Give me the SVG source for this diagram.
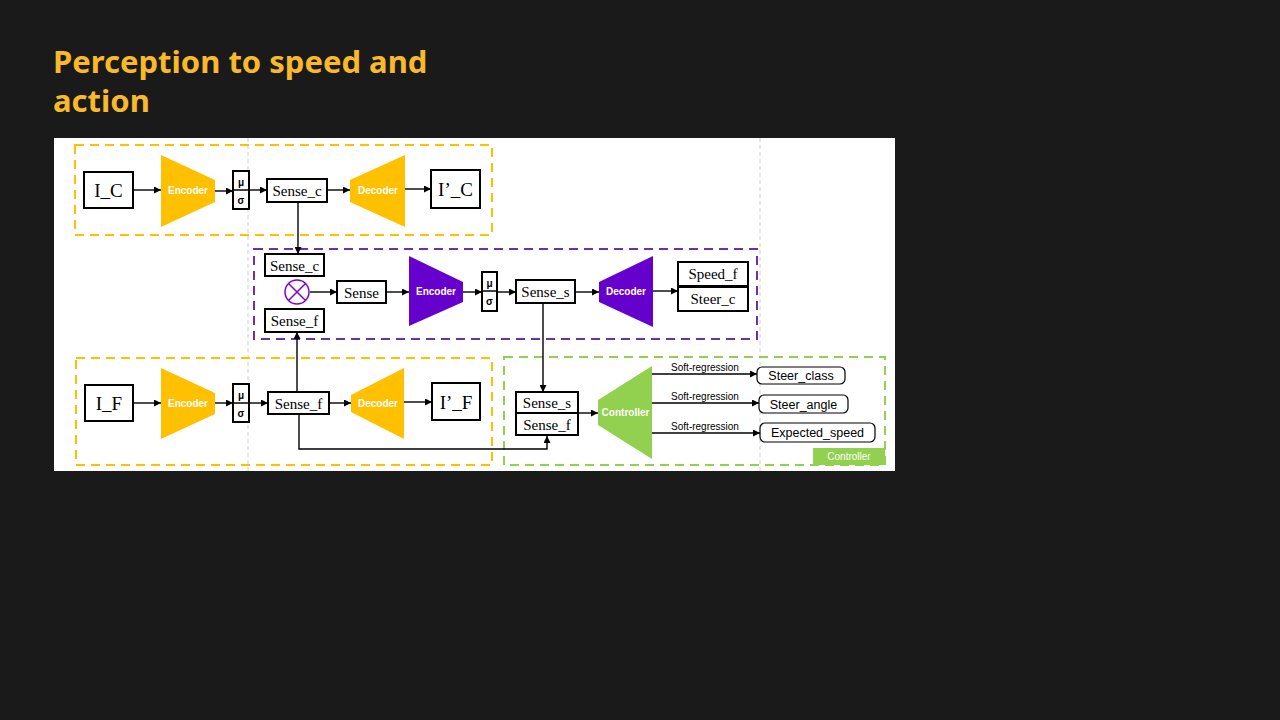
<svg xmlns="http://www.w3.org/2000/svg" width="1280" height="720" viewBox="0 0 1280 720">
<defs>
<marker id="ah" viewBox="0 0 10 10" refX="10" refY="5" markerWidth="7" markerHeight="7" markerUnits="userSpaceOnUse" orient="auto"><path d="M0,0 L10,5 L0,10 z" fill="#000"/></marker>
<style>
.bx{fill:#fff;stroke:#000;stroke-width:2}
.rb{fill:#fff;stroke:#000;stroke-width:1.2}
.sv{font-family:"Liberation Serif",serif;fill:#000;text-anchor:middle}
.ss{font-family:"Liberation Sans",sans-serif;text-anchor:middle}
.lbl{font-family:"Liberation Sans",sans-serif;font-weight:bold;fill:#fff;text-anchor:middle;font-size:10px}
.con{fill:none;stroke:#000;stroke-width:1.4}
.arr{fill:none;stroke:#000;stroke-width:1.4;marker-end:url(#ah)}
.grid{stroke:#cfcfcf;stroke-width:1;stroke-dasharray:4 3}
</style>
</defs>
<rect width="1280" height="720" fill="#1a1a1a"/>
<g id="title" font-family="'Noto Sans','Noto Sans CJK JP',sans-serif" font-weight="bold" font-size="31" fill="#F8B92A">
<text x="53" y="73">Perception to speed and</text>
<text x="53" y="112">action</text>
</g>
<rect x="54" y="138" width="841" height="333" fill="#fff"/>
<g id="guides">
<line class="grid" x1="248" y1="138" x2="248" y2="471"/>
<line class="grid" x1="760" y1="138" x2="760" y2="471"/>
</g>
<g id="group-top"><rect x="75" y="145" width="417" height="90" fill="none" stroke="#FFC000" stroke-width="2" stroke-dasharray="9 6"/></g>
<g id="group-mid"><rect x="254" y="249" width="503" height="90" fill="none" stroke="#7030A0" stroke-width="2" stroke-dasharray="9 6"/></g>
<g id="group-bot"><rect x="76" y="358" width="416" height="107" fill="none" stroke="#FFC000" stroke-width="2" stroke-dasharray="9 6"/></g>
<g id="group-ctrl"><rect x="504" y="357" width="381" height="108" fill="none" stroke="#92D050" stroke-width="2" stroke-dasharray="9 6"/>
<rect x="813" y="448" width="72" height="17" fill="#92D050"/><text x="849" y="460" class="ss" font-size="10" fill="#fff">Controller</text></g>

<g id="connectors">
<line class="arr" x1="133" y1="190" x2="161" y2="190"/>
<line class="arr" x1="215" y1="191" x2="233" y2="191"/>
<line class="arr" x1="249" y1="190" x2="267" y2="190"/>
<line class="arr" x1="327" y1="190" x2="350" y2="190"/>
<line class="arr" x1="405" y1="189" x2="431" y2="189"/>
<line class="arr" x1="298" y1="202" x2="298" y2="254"/>
<line class="arr" x1="310" y1="292" x2="337" y2="292"/>
<line class="arr" x1="386" y1="292" x2="409" y2="292"/>
<line class="arr" x1="463" y1="292" x2="482" y2="292"/>
<line class="arr" x1="497" y1="292" x2="516" y2="292"/>
<line class="arr" x1="575" y1="292" x2="599" y2="292"/>
<line class="arr" x1="653" y1="291" x2="678" y2="291"/>
<line class="arr" x1="543" y1="303" x2="543" y2="392"/>
<line class="arr" x1="133" y1="403" x2="161" y2="403"/>
<line class="arr" x1="215" y1="403" x2="233" y2="403"/>
<line class="arr" x1="249" y1="403" x2="268" y2="403"/>
<line class="arr" x1="329" y1="403" x2="351" y2="403"/>
<line class="arr" x1="404" y1="402" x2="432" y2="402"/>
<line class="arr" x1="297" y1="392" x2="297" y2="332"/>
<polyline class="arr" points="299,414 299,449 547,449 547,436"/>
<line class="arr" x1="578" y1="413" x2="598" y2="413"/>
<line class="arr" x1="652" y1="374" x2="757" y2="374"/>
<line class="arr" x1="652" y1="403" x2="759" y2="403"/>
<line class="arr" x1="652" y1="433" x2="760" y2="433"/>
<g class="ss" font-size="10" fill="#000">
<text x="705" y="371">Soft-regression</text>
<text x="705" y="400">Soft-regression</text>
<text x="705" y="430">Soft-regression</text>
</g>
</g>

<g id="IC"><rect class="bx" x="84" y="172" width="49" height="36"/><text class="sv" x="108.5" y="197" font-size="19">I_C</text></g>
<g id="enc-top"><polygon points="161,155 215,180 215,202 161,227" fill="#FFC000"/><text class="lbl" x="188" y="194">Encoder</text></g>
<g id="ms-top"><rect class="bx" x="233" y="171" width="16" height="38"/><line x1="233" y1="190" x2="249" y2="190" stroke="#000" stroke-width="1.5"/><text class="ss" x="241" y="186" font-size="10" font-weight="bold">μ</text><text class="ss" x="241" y="204" font-size="10" font-weight="bold">σ</text></g>
<g id="sense-c-top"><rect class="bx" x="267" y="179" width="60" height="23"/><text class="sv" x="297" y="195.5" font-size="15">Sense_c</text></g>
<g id="dec-top"><polygon points="350,180 405,155 405,227 350,202" fill="#FFC000"/><text class="lbl" x="378" y="194">Decoder</text></g>
<g id="IpC"><rect class="bx" x="431" y="170" width="49" height="38"/><text class="sv" x="455.5" y="196" font-size="19">I’_C</text></g>

<g id="sense-c-mid"><rect class="bx" x="265" y="254" width="59" height="22"/><text class="sv" x="294.5" y="270.5" font-size="15">Sense_c</text></g>
<g id="mult"><circle cx="297" cy="292" r="12" fill="#fff" stroke="#7F00D4" stroke-width="1.5"/><path d="M288.5,283.5 L305.5,300.5 M305.5,283.5 L288.5,300.5" stroke="#7F00D4" stroke-width="1.5"/></g>
<g id="sense-f-mid"><rect class="bx" x="265" y="309" width="59" height="23"/><text class="sv" x="294.5" y="325.5" font-size="15">Sense_f</text></g>
<g id="sense"><rect class="bx" x="337" y="281" width="49" height="22"/><text class="sv" x="361.5" y="297.5" font-size="15">Sense</text></g>
<g id="enc-mid"><polygon points="409,256 463,282 463,302 409,326" fill="#6600CC"/><text class="lbl" x="436" y="295">Encoder</text></g>
<g id="ms-mid"><rect class="bx" x="482" y="272" width="15" height="39"/><line x1="482" y1="291" x2="497" y2="291" stroke="#000" stroke-width="1.5"/><text class="ss" x="489.5" y="287" font-size="10" font-weight="bold">μ</text><text class="ss" x="489.5" y="305" font-size="10" font-weight="bold">σ</text></g>
<g id="sense-s-mid"><rect class="bx" x="516" y="280" width="59" height="23"/><text class="sv" x="545.5" y="296.5" font-size="15">Sense_s</text></g>
<g id="dec-mid"><polygon points="599,282 653,256 653,327 599,302" fill="#6600CC"/><text class="lbl" x="626" y="295">Decoder</text></g>
<g id="speed-steer"><rect class="bx" x="678" y="262" width="70" height="24"/><text class="sv" x="713" y="279" font-size="15">Speed_f</text><rect class="bx" x="678" y="287" width="70" height="24"/><text class="sv" x="713" y="304" font-size="15">Steer_c</text></g>

<g id="IF"><rect class="bx" x="85" y="385" width="48" height="36"/><text class="sv" x="109" y="410" font-size="19">I_F</text></g>
<g id="enc-bot"><polygon points="161,368 215,393 215,414 161,439" fill="#FFC000"/><text class="lbl" x="188" y="407">Encoder</text></g>
<g id="ms-bot"><rect class="bx" x="233" y="384" width="16" height="38"/><line x1="233" y1="403" x2="249" y2="403" stroke="#000" stroke-width="1.5"/><text class="ss" x="241" y="399" font-size="10" font-weight="bold">μ</text><text class="ss" x="241" y="417" font-size="10" font-weight="bold">σ</text></g>
<g id="sense-f-bot"><rect class="bx" x="268" y="392" width="61" height="22"/><text class="sv" x="298.5" y="408.5" font-size="15">Sense_f</text></g>
<g id="dec-bot"><polygon points="351,395 404,368 404,439 351,412" fill="#FFC000"/><text class="lbl" x="378" y="407">Decoder</text></g>
<g id="IpF"><rect class="bx" x="432" y="383" width="48" height="37"/><text class="sv" x="456" y="409" font-size="19">I’_F</text></g>

<g id="sense-sf-ctrl"><rect class="bx" x="516" y="392" width="62" height="21"/><text class="sv" x="547" y="407.5" font-size="15">Sense_s</text><rect class="bx" x="516" y="413" width="62" height="22"/><text class="sv" x="547" y="429.5" font-size="15">Sense_f</text></g>
<g id="controller"><polygon points="598,400 652,366 652,459 598,425" fill="#92D050"/><text class="lbl" x="625.5" y="416" font-size="9.3px">Controller</text></g>
<g id="steer-class"><rect class="rb" x="757" y="367" width="88" height="17" rx="5"/><text class="ss" x="801" y="380" font-size="12.5">Steer_class</text></g>
<g id="steer-angle"><rect class="rb" x="759" y="395" width="89" height="18" rx="5"/><text class="ss" x="803.5" y="408.5" font-size="12.5">Steer_angle</text></g>
<g id="expected-speed"><rect class="rb" x="760" y="423" width="115" height="19" rx="5"/><text class="ss" x="817.5" y="437" font-size="12.5">Expected_speed</text></g>
</svg>
